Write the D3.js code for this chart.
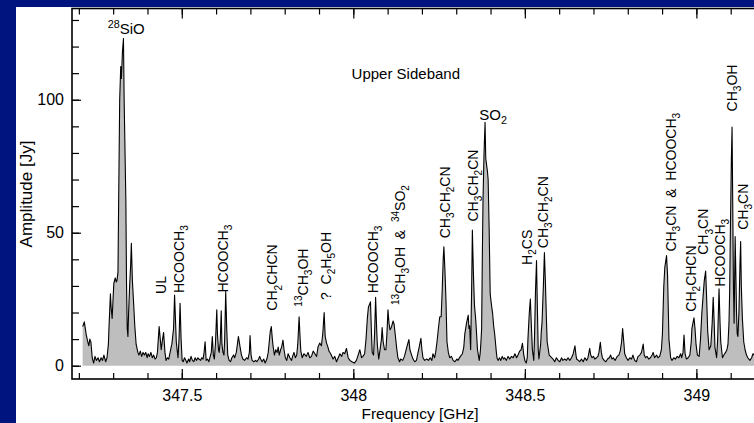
<!DOCTYPE html>
<html>
<head>
<meta charset="utf-8">
<style>
  html, body { margin: 0; padding: 0; background: #001480; }
  svg { display: block; }
  text { font-family: "Liberation Sans", Arial, Helvetica, sans-serif; white-space: pre; }
</style>
<script src="https://cdn.jsdelivr.net/npm/d3@7"></script>
</head>
<body>
<svg id="chart" width="754" height="423"></svg>
<script>
// spectrum: [frequency GHz, amplitude Jy]
const spectrum = [
  [347.211,14.7],[347.216,16.5],[347.221,12],[347.225,9.5],[347.229,7.5],[347.232,10],[347.235,9],[347.239,3],[347.243,1],[347.247,3.5],
  [347.251,2],[347.256,3],[347.260,1.5],[347.265,3],[347.269,2],[347.273,4],[347.278,1.5],[347.282,3],[347.286,8],[347.288,15],
  [347.292,27],[347.294,22],[347.297,17.8],[347.300,26],[347.302,31],[347.306,33],[347.309,31.5],[347.311,32],[347.314,35],[347.316,62],
  [347.319,100],[347.322,112.5],[347.324,108],[347.327,118],[347.330,123],[347.332,100],[347.337,62],[347.339,30],[347.341,14],[347.343,11],
  [347.345,20],[347.348,30],[347.351,38],[347.353,46],[347.356,32],[347.359,25],[347.363,15],[347.367,8],[347.372,5],
  [347.375,4],[347.379,5.5],[347.383,3.5],[347.387,5],[347.391,4],[347.395,5],[347.399,3],[347.402,4.5],[347.406,3.5],[347.410,5],
  [347.414,3],[347.418,4],[347.422,2.5],[347.426,3],[347.429,5],[347.434,14.7],[347.438,9],[347.440,6],[347.444,10],[347.447,12.5],
  [347.451,5],[347.454,2],[347.458,3],[347.462,2.5],[347.466,5],[347.469,7],[347.471,8],[347.476,14],[347.479,26.6],[347.482,16],
  [347.484,9],[347.486,6.5],[347.489,3],[347.492,10],[347.495,23.5],[347.498,10],[347.501,2],
  [347.504,1.5],[347.508,3],[347.512,2],[347.515,1],[347.520,2.5],[347.523,1.5],[347.527,3.5],[347.531,2],[347.535,1.5],[347.539,3],
  [347.543,2],[347.547,3],[347.550,2.5],[347.555,2],[347.558,3],[347.562,2.5],[347.565,5],[347.568,9],[347.571,2],[347.575,2.5],
  [347.579,1.5],[347.582,3],[347.586,5],[347.589,11],[347.592,4],[347.595,2.5],[347.598,8],[347.602,21],[347.604,12],[347.607,6],
  [347.609,5],[347.612,9],[347.615,20.6],[347.617,8],[347.620,5],[347.623,4],[347.625,10],[347.628,27.9],[347.631,14],[347.634,4],
  [347.638,2],[347.642,1.5],[347.646,3],[347.651,4],[347.654,3],[347.659,5],[347.665,11],[347.670,7],[347.674,4],[347.678,2.5],
  [347.683,2],[347.689,3],[347.693,2.5],[347.697,5],[347.699,11.3],[347.702,4],[347.705,2],[347.710,1.5],[347.715,2],[347.719,1.5],
  [347.724,2.5],[347.727,3.5],[347.730,2.5],[347.734,1.5],[347.739,2.5],[347.743,1],[347.748,2.5],[347.752,5],[347.755,9],[347.758,13],
  [347.761,14.7],[347.764,10],[347.766,7.5],[347.770,4],[347.774,6],[347.778,5],[347.781,7],[347.784,4],[347.788,6],[347.791,7],
  [347.795,9.6],[347.798,6],[347.802,3],[347.806,2],[347.810,4.5],[347.815,3],[347.820,2],[347.823,3.5],[347.827,5],[347.831,3],
  [347.835,4],[347.838,8],[347.842,18.4],[347.845,10],[347.847,5.5],[347.851,3],[347.856,4.5],[347.863,3.5],[347.868,5],[347.873,3],
  [347.878,3.5],[347.883,5.5],[347.888,4.5],[347.893,3.5],[347.897,7],[347.902,8.5],[347.907,7.5],[347.911,12],[347.915,20],[347.918,11],
  [347.922,8.5],[347.926,7],[347.929,5.5],[347.934,4.5],[347.941,2.5],[347.946,3.5],[347.951,1.5],[347.956,3],[347.961,4.5],[347.966,3.5],
  [347.970,5],[347.975,4.5],[347.980,6.5],[347.985,3],[347.990,2],[347.996,1.5],
  [348.003,1],[348.009,2],[348.014,4],[348.019,6],[348.024,3],[348.028,3.5],[348.033,4.5],[348.037,10],[348.041,18],[348.044,22],
  [348.050,24],[348.053,12],[348.055,5],[348.059,4],[348.062,12],[348.065,25.7],[348.068,14],[348.070,8],[348.074,2.5],[348.079,7],
  [348.082,10],[348.084,14.3],[348.087,9],[348.091,6],[348.095,6],[348.098,12],[348.101,21],[348.104,16],[348.107,13.5],[348.111,14.5],
  [348.116,16.8],[348.119,15.5],[348.122,12],[348.126,7],[348.130,3],[348.135,1.5],[348.138,2.5],[348.144,2],[348.149,3.5],[348.153,5.5],
  [348.158,8],[348.162,9.8],[348.165,6],[348.170,4],[348.174,2.5],[348.179,1.5],[348.184,2],[348.188,4.5],[348.192,7],[348.197,10.3],
  [348.200,6],[348.203,3],[348.208,2],[348.214,2.5],[348.219,2],[348.224,3],[348.229,2],[348.232,4.5],[348.237,3],[348.240,5],
  [348.244,9],[348.248,14],[348.252,18.4],[348.256,18.4],[348.259,28],[348.262,40],[348.264,44.7],[348.267,36],[348.270,25],[348.273,9],
  [348.277,5],[348.281,3],[348.286,3.5],[348.291,2],[348.296,1.5],[348.302,2.5],[348.305,2],[348.312,3.5],[348.318,4.5],[348.322,7],
  [348.325,12],[348.330,16],[348.335,19],[348.337,14],[348.339,15],[348.342,6],[348.345,30],[348.347,51],[348.350,35],[348.353,23],
  [348.357,17],[348.362,6],[348.367,2],[348.370,5],[348.372,9],[348.374,14],[348.376,40],[348.378,62],[348.381,80],[348.384,91.5],
  [348.386,78],[348.388,76],[348.391,73],[348.393,70],[348.396,51],[348.399,27],[348.403,22.5],[348.406,19.7],[348.409,15],[348.412,12],
  [348.417,5],[348.419,2.8],[348.422,2],[348.426,3],[348.430,2],[348.434,3.5],[348.438,2.5],[348.441,3],[348.446,2],[348.451,3.5],
  [348.456,2.5],[348.461,3.5],[348.466,3],[348.471,4.5],[348.476,3],[348.480,4],[348.485,5.5],[348.489,6],[348.493,8.4],[348.497,4],
  [348.500,2],[348.504,1],[348.507,3],[348.509,10],[348.513,20],[348.516,25.1],[348.519,15],[348.522,6],[348.526,2],[348.528,10],
  [348.531,28],[348.534,39.5],[348.536,25],[348.539,6],[348.541,2.5],[348.546,8],[348.548,13],[348.550,16],[348.554,30],[348.557,42.5],
  [348.560,31],[348.563,17],[348.565,9],[348.571,4],[348.578,3],[348.582,2.5],[348.587,1.5],[348.592,3],[348.597,2],[348.602,1.5],
  [348.607,3],[348.611,2],[348.616,2.5],[348.621,2],[348.626,3],[348.631,2],[348.636,3],[348.641,4.5],[348.646,7.5],[348.649,4],
  [348.651,2.5],[348.656,2],[348.660,1.5],[348.665,2.5],[348.670,1.5],[348.675,3],[348.680,2],[348.684,3],[348.689,6.5],[348.692,4],
  [348.696,3],[348.700,3.5],[348.704,2.5],[348.709,3],[348.713,3.5],[348.716,5],[348.720,8.8],[348.723,5],[348.726,3],[348.731,2],
  [348.736,1.5],[348.741,2.5],[348.746,3],[348.750,4],[348.754,2.5],[348.758,3],[348.763,2],[348.769,3.5],[348.774,4],[348.778,5.5],
  [348.782,9],[348.785,14],[348.789,8],[348.791,4.5],[348.796,3],[348.801,2],[348.806,3],[348.811,2.5],[348.815,4],[348.820,2],
  [348.825,1.5],[348.830,3.5],[348.835,4],[348.840,5],[348.845,8.1],[348.848,4],[348.852,3],[348.856,3.5],[348.861,2.5],[348.866,3],
  [348.871,4],[348.874,5],[348.878,3],[348.884,4],[348.888,3],[348.893,3.5],[348.898,6],[348.901,12],[348.905,30],[348.908,37],
  [348.913,41.4],[348.916,34],[348.918,22],[348.920,10],[348.925,3],[348.929,2],[348.934,3],[348.939,2.5],[348.944,3.5],[348.949,3],
  [348.954,4.5],[348.957,3],[348.961,5],[348.964,11.5],[348.967,4.5],[348.971,2.5],[348.976,3],[348.981,4],[348.985,9],[348.987,14],
  [348.993,18],[348.996,14],[348.999,8],[349.003,4],[349.008,3.5],[349.012,10],[349.016,20],[349.020,27],[349.023,32],[349.027,35.6],
  [349.030,25],[349.033,13],[349.037,6],[349.042,7.5],[349.046,16],[349.049,25.7],[349.052,16],[349.054,7],[349.059,3],[349.062,10],
  [349.066,28.9],[349.069,16],[349.071,9],[349.076,3],[349.080,4],[349.085,5],[349.089,6],[349.092,8],[349.095,16],[349.097,28],
  [349.099,50],[349.102,78],[349.104,89.7],[349.106,60],[349.108,30],[349.110,16],[349.113,48.6],[349.115,35],[349.117,20],[349.119,12],
  [349.121,11],[349.124,20],[349.127,38],[349.129,46.7],[349.131,30],[349.134,18],[349.138,9],[349.142,6],[349.146,4],[349.150,3],
  [349.156,2],[349.161,3],[349.165,4.5],[349.169,4]
];

// vertical line labels: [text, frequency of baseline, amplitude where text starts]
// "_x" = subscript, "^{..}" = superscript
const lineLabels = [
  ["UL", 347.453, 27.0],
  ["HCOOCH_3", 347.507, 27.3],
  ["HCOOCH_3", 347.634, 27.5],
  ["CH_2CHCN", 347.779, 20.7],
  ["^{13}CH_3OH", 347.868, 22.2],
  ["?  C_2H_5OH", 347.934, 24.7],
  ["HCOOCH_3", 348.072, 27.2],
  ["^{13}CH_3OH  &  ^{34}SO_2", 348.150, 22.8],
  ["CH_3CH_2CN", 348.281, 47.9],
  ["CH_3CH_2CN", 348.364, 54.2],
  ["H_2CS", 348.520, 37.9],
  ["CH_3CH_2CN", 348.568, 44.2],
  ["CH_3CN  &  HCOOCH_3", 348.940, 42.9],
  ["CH_2CHCN", 348.999, 20.3],
  ["CH_3CN", 349.035, 41.7],
  ["HCOOCH_3", 349.083, 29.7],
  ["CH_3OH", 349.118, 95.6],
  ["CH_3CN", 349.151, 51.1]
];

// horizontal labels: [text, start frequency, baseline amplitude]
const flatLabels = [
  ["^{28}SiO", 347.284, 124.8],
  ["SO_2", 348.367, 92.5]
];

const xMajorTicks = [347.5, 348, 348.5, 349];
const yMajorTicks = [0, 50, 100];
const title = "Upper Sideband";
const xTitle = "Frequency [GHz]";
const yTitle = "Amplitude [Jy]";

const W = 754, H = 423;
const plot = { left: 72, top: 8.5, right: 765, bottom: 379 };

const svg = d3.select("#chart");

svg.append("rect").attr("width", W).attr("height", H).attr("fill", "#001480");
svg.append("rect").attr("x", 16).attr("y", 7).attr("width", W - 16).attr("height", H - 7).attr("fill", "#fff");

const x = d3.scaleLinear().domain([347.18, 349.2]).range([plot.left, plot.right]);
const y = d3.scaleLinear().domain([-5, 134.5]).range([plot.bottom, 8]);

svg.append("clipPath").attr("id", "clip")
  .append("rect")
  .attr("x", plot.left).attr("y", plot.top)
  .attr("width", plot.right - plot.left).attr("height", plot.bottom - plot.top);

const area = d3.area().x((d) => x(d[0])).y0(y(0)).y1((d) => y(d[1]));
const line = d3.line().x((d) => x(d[0])).y((d) => y(d[1]));

const g = svg.append("g").attr("clip-path", "url(#clip)");
g.append("path").datum(spectrum).attr("d", area).attr("fill", "#bebebe");
g.append("path").datum(spectrum).attr("d", line)
  .attr("fill", "none").attr("stroke", "#000").attr("stroke-width", 1.1).attr("stroke-linejoin", "round");

function styleAxis(sel) {
  sel.select(".domain").remove();
  sel.selectAll(".tick line").attr("stroke", "#000").attr("stroke-width", 1.2);
  sel.selectAll(".tick text").attr("fill", "#000").attr("font-size", 16)
    .attr("font-family", '"Liberation Sans", Arial, Helvetica, sans-serif');
}

const xMinor = x.ticks(20);
const yMinor = y.ticks(15).filter((d) => d >= 0);

// bottom
svg.append("g").attr("transform", `translate(0,${plot.bottom})`)
  .call(d3.axisBottom(x).tickValues(xMinor).tickSize(-6).tickFormat(""))
  .call(styleAxis);
svg.append("g").attr("transform", `translate(0,${plot.bottom})`)
  .call(d3.axisBottom(x).tickValues(xMajorTicks).tickSize(-10).tickPadding(11).tickFormat((d) => String(d)))
  .call(styleAxis);
// top
svg.append("g").attr("transform", `translate(0,${plot.top})`)
  .call(d3.axisTop(x).tickValues(xMinor).tickSize(-6).tickFormat(""))
  .call(styleAxis);
svg.append("g").attr("transform", `translate(0,${plot.top})`)
  .call(d3.axisTop(x).tickValues(xMajorTicks).tickSize(-10).tickFormat(""))
  .call(styleAxis);
// left
svg.append("g").attr("transform", `translate(${plot.left},0)`)
  .call(d3.axisLeft(y).tickValues(yMinor).tickSize(-7).tickFormat(""))
  .call(styleAxis);
svg.append("g").attr("transform", `translate(${plot.left},0)`)
  .call(d3.axisLeft(y).tickValues(yMajorTicks).tickSize(-9).tickPadding(8).tickFormat((d) => String(d)))
  .call(styleAxis);

svg.append("rect")
  .attr("x", plot.left).attr("y", plot.top)
  .attr("width", plot.right - plot.left).attr("height", plot.bottom - plot.top)
  .attr("fill", "none").attr("stroke", "#000").attr("stroke-width", 1.6);

function richText(sel, str, size) {
  const parts = str.match(/\^\{[^}]*\}|_[^\s]|[^_^]+/g);
  let shift = 0;
  parts.forEach((p) => {
    let txt = p, sz = size, target = 0;
    if (p.startsWith("^{")) {
      txt = p.slice(2, -1); sz = size * 0.72; target = -size * 0.4;
    } else if (p.startsWith("_")) {
      txt = p.slice(1); sz = size * 0.72; target = size * 0.3;
    }
    sel.append("tspan").attr("font-size", sz).attr("dy", target - shift).text(txt);
    shift = target;
  });
}

const labels = svg.append("g").attr("fill", "#000");

lineLabels.forEach(([txt, f, a]) => {
  const t = labels.append("text")
    .attr("transform", `translate(${x(f)},${y(a)}) rotate(-90)`)
    .attr("font-size", 14);
  richText(t, txt, 14);
});

flatLabels.forEach(([txt, f, a]) => {
  const t = labels.append("text")
    .attr("x", x(f)).attr("y", y(a))
    .attr("font-size", 15);
  richText(t, txt, 15);
});

labels.append("text").attr("x", x(348.153)).attr("y", y(107.9))
  .attr("text-anchor", "middle").attr("font-size", 15).text(title);

svg.append("text").attr("x", 420).attr("y", 419)
  .attr("text-anchor", "middle").attr("font-size", 15.5).text(xTitle);

svg.append("text").attr("transform", "translate(32,194) rotate(-90)")
  .attr("text-anchor", "middle").attr("font-size", 17).text(yTitle);
</script>
</body>
</html>
